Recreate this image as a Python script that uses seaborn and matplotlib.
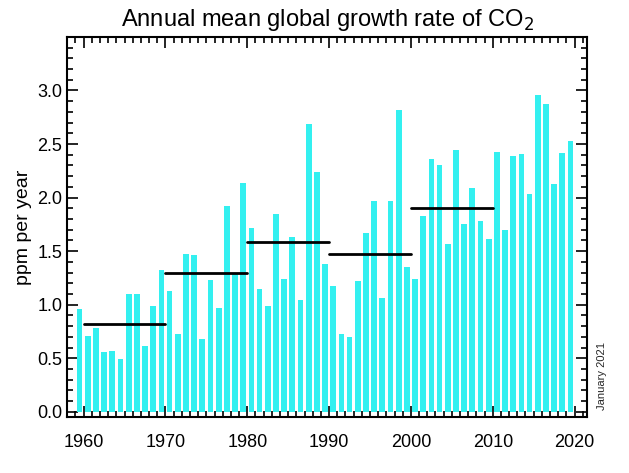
import numpy as np
import pandas as pd
import matplotlib
matplotlib.use("Agg")
import matplotlib.pyplot as plt
import seaborn as sns

years = list(range(1959, 2020))
growth = [0.96, 0.71, 0.78, 0.56, 0.57, 0.49, 1.10, 1.10, 0.61, 0.99,
          1.32, 1.13, 0.73, 1.47, 1.46, 0.68, 1.23, 0.97, 1.92, 1.29,
          2.14, 1.72, 1.15, 0.99, 1.85, 1.24, 1.63, 1.04, 2.69, 2.24,
          1.38, 1.17, 0.73, 0.70, 1.22, 1.67, 1.97, 1.06, 1.97, 2.82,
          1.35, 1.24, 1.83, 2.36, 2.30, 1.57, 2.44, 1.75, 2.09, 1.78,
          1.61, 2.43, 1.70, 2.39, 2.41, 2.03, 2.96, 2.87, 2.13, 2.42,
          2.53]
decade_start = [1960, 1970, 1980, 1990, 2000]
decade_mean = [0.82, 1.30, 1.59, 1.47, 1.90]

df = pd.DataFrame({"year": years, "growth": growth})

sns.set_theme(style="ticks")
plt.rcParams["font.family"] = ["Liberation Sans", "DejaVu Sans"]

fig = plt.figure(figsize=(6.29, 4.73), dpi=100)
ax = fig.add_axes([0.107, 0.118, 0.826, 0.804])
ax.bar(df["year"] + 0.5, df["growth"], width=0.7, color="#33F0F0", linewidth=0)
for s, m in zip(decade_start, decade_mean):
    ax.plot([s, s + 10], [m, m], color="black", lw=2)

ax.set_xlim(1958, 2021.5)
ax.set_ylim(-0.05, 3.5)
ax.set_xticks(range(1960, 2021, 10))
ax.set_xticks(range(1958, 2022), minor=True)
ax.set_yticks(np.arange(0, 3.01, 0.5))
ax.set_yticks(np.arange(0, 3.5, 0.1), minor=True)
ax.yaxis.set_major_formatter(matplotlib.ticker.FormatStrFormatter("%.1f"))
ax.tick_params(which="both", direction="in", top=True, right=True, labelsize=13,
               width=1.2, color="black", labelcolor="black")
ax.tick_params(which="major", length=8)
ax.tick_params(which="minor", length=4)
ax.tick_params(axis="x", pad=12)
for sp in ax.spines.values():
    sp.set_linewidth(1.5)
    sp.set_color("black")
ax.set_ylabel("ppm per year", fontsize=14, color="black")
ax.set_title("Annual mean global growth rate of CO$_2$", fontsize=17, pad=8, color="black")
ax.text(1.03, 0.02, "January 2021", rotation=90, fontsize=8, ha="center", va="bottom",
        transform=ax.transAxes, clip_on=False)

fig.savefig("out.png", dpi=100)
